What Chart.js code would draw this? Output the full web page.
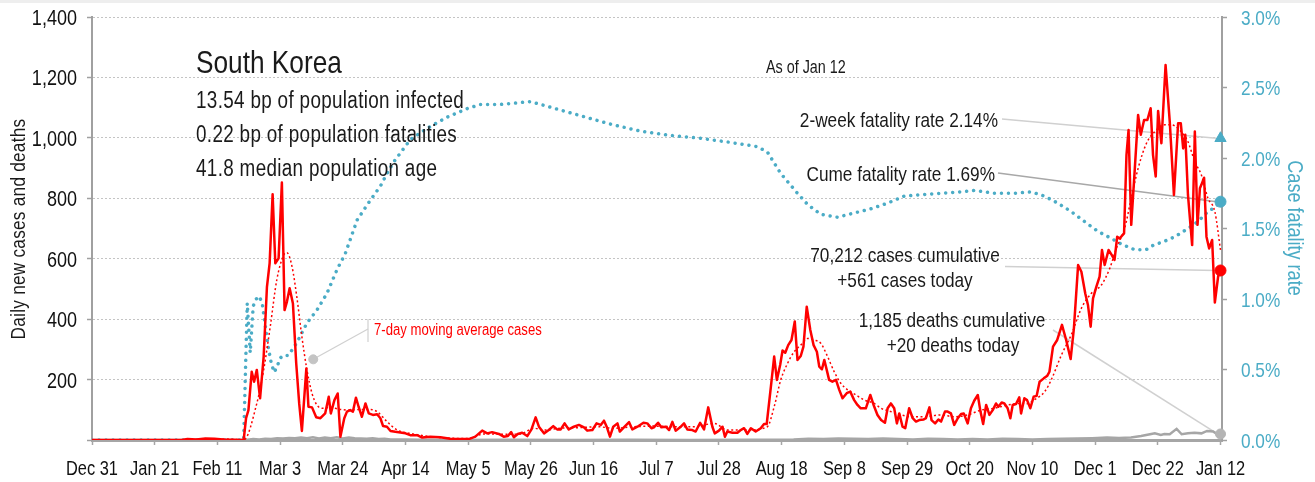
<!DOCTYPE html>
<html>
<head>
<meta charset="utf-8">
<title>South Korea - daily cases, deaths and fatality rate</title>
<script src="https://cdn.jsdelivr.net/npm/chart.js@4.4.1/dist/chart.umd.min.js"></script>
<style>
  html, body { margin: 0; padding: 0; background: #fff; }
  #wrap { width: 1315px; height: 482px; }
</style>
</head>
<body>
<div id="wrap"><canvas id="chart" width="1315" height="482"></canvas></div>
<script>
// x values are days since Dec 31, 2019
const tickLabels = ['Dec 31', 'Jan 21', 'Feb 11', 'Mar 3', 'Mar 24', 'Apr 14', 'May 5', 'May 26', 'Jun 16',
  'Jul 7', 'Jul 28', 'Aug 18', 'Sep 8', 'Sep 29', 'Oct 20', 'Nov 10', 'Dec 1', 'Dec 22', 'Jan 12'];

// daily new cases
const caseDays = [0, 30, 32, 35, 38, 41, 44, 47, 50.8,
  51.6, 52.4, 53.5, 54.3, 55.2, 56.3, 57.5, 58.6, 59.5, 60.5, 61.4, 62.5, 63.6, 64.5, 65.3, 66.2, 67.3, 68.4, 69.4, 70.3,
  71.8, 72.5, 73.7, 75.1, 76.5, 78.1, 79.3, 80.0, 81.2, 82.3, 83.2, 84.5, 85.4, 86.5, 87.4, 88.4, 89.3, 90.4, 91.6, 92.7,
  94.1, 95.5, 96.6, 97.5, 98.8, 100, 101.6, 103.3, 105, 106.6, 108.9, 110.6, 113.3, 116.7, 120, 123.4, 126.2, 128.4,
  130.7, 132.4, 134, 136.3, 137.9, 139.3, 140.4, 141.3, 142.6, 144.1, 145.8, 147.2, 148.6, 149.7, 151.4, 153, 154.5,
  155.8, 157, 158.3, 159.7, 161.4, 163.1, 164.8, 165.9, 167.6, 169, 170.4, 171.5, 172.4, 173.5, 174.6, 176, 176.8,
  178.4, 179.9, 181, 182.7, 184.7, 186, 187.4, 188.2, 189.6, 190.7, 192.2, 193.3, 194.4, 195.5, 197, 198.3, 199.4,
  201.1, 202.2, 203.7, 205, 206.4, 207.8, 208.6, 210, 211.2, 212, 212.8, 214.5, 216.2, 217.3, 218.4, 219.5, 220.7,
  222.3, 224, 225.1, 226, 227.4, 228.5, 229.4, 230.5, 231.3, 232.2, 233.2, 234.3, 235.4, 236.3, 237.4, 238.3, 239.4,
  240.6, 241.7, 242.8, 243.6, 244.5, 245.3, 246.1, 246.9, 248, 249.2, 250.3, 251.4, 252.8, 254, 255.3, 256.4, 257.5,
  259.2, 260.7, 261.8, 263.1, 264.3, 265.6, 266.5, 267.6, 268.7, 269.6, 270.4, 271.5, 272.4, 273.7, 274.9, 276, 277.1,
  278.6, 279.3, 280.5, 281.2, 282.4, 283.5, 284.4, 285.7, 286.6, 287.7, 288.8, 290, 291.1, 292, 293.3, 294.4, 295.5,
  296.7, 297.6, 298.5, 299.5, 300.6, 301.7, 302.8, 303.6, 304.7, 305.6, 306.7, 307.6, 308.4, 309.5, 310.6, 311.2,
  312.3, 313.2, 314.3, 315.4, 316.4, 317.4, 318.8, 320, 320.7, 321.9, 323.3, 324.9, 326.3, 327.8, 328.9, 330.3, 331.4,
  332.7, 333.6, 334.5, 335.3, 336.4, 337.5, 338.3, 339.2, 340.5, 341.6, 342.5, 343.4, 344.2, 345.7, 346.5, 347.2,
  348.1, 349.3, 350.4, 351.3, 352.4, 353.5, 354.6, 355.4, 356.3, 357.1, 358.2, 359.6, 361, 362.4, 363.8, 364.7, 365.5,
  366.2, 367.1, 368.5, 369.4, 370.3, 371.1, 371.8, 372.5, 373.3, 374.2, 375.2, 376.1, 377.2, 378];
const caseCounts = [0, 0, 3, 2, 5, 4, 2, 1, 0,
  72, 99, 226, 193, 232, 138, 276, 507, 585, 813, 585, 601, 852, 430, 458, 502, 452, 254, 121, 30,
  237, 110, 108, 75, 72, 88, 143, 88, 132, 154, 11, 72, 94, 99, 94, 140, 110, 77, 121, 88,
  83, 85, 72, 46, 44, 30, 27, 25, 22, 16, 16, 8, 11, 9, 4, 3, 3, 11,
  31, 22, 26, 20, 11, 13, 26, 9, 20, 24, 13, 35, 75, 44, 22, 33, 46,
  35, 35, 55, 35, 44, 50, 42, 31, 33, 55, 50, 64, 44, 11, 44, 55, 28,
  44, 59, 35, 44, 57, 55, 39, 42, 57, 42, 44, 33, 60, 31, 42, 55, 35,
  33, 28, 57, 35, 108, 44, 22, 31, 44, 11, 28, 24, 24, 33, 39, 20, 39,
  28, 39, 53, 53, 177, 276, 199, 248, 296, 289, 314, 331, 392, 265, 278, 309, 441,
  364, 314, 292, 243, 234, 265, 232, 199, 193, 199, 166, 138, 155, 160, 132, 116, 105,
  105, 149, 116, 83, 66, 57, 105, 121, 105, 55, 88, 44, 39, 105, 72, 61, 66,
  68, 72, 108, 66, 55, 68, 61, 94, 94, 88, 50, 72, 86, 88, 55, 105, 130,
  149, 94, 53, 116, 83, 99, 121, 110, 124, 121, 105, 72, 116, 119, 141, 88,
  138, 132, 105, 143, 146, 193, 204, 213, 226, 309, 331, 381, 331, 268, 370, 579, 557,
  485, 447, 375, 469, 507, 541, 629, 579, 629, 612, 596, 673, 667, 684, 943, 1026,
  712, 899, 1076, 1010, 1059, 1059, 1098, 943, 872, 1089, 982, 1241, 1054, 811, 1048, 1048, 965,
  1010, 811, 645, 1021, 712, 833, 850, 868, 673, 634, 662, 455, 541, 561];

// 7-day moving average of new cases
const avgDays = [0, 30, 35, 40, 45, 50.8, 55.2, 57.5, 59.7, 61.9, 64.2, 65.3, 67, 68.6, 70.3, 72, 73.7, 75.3, 77.6,
  79.8, 83.2, 86.5, 89.9, 93.2, 95.5, 98.8, 102.2, 106.6, 113.3, 120, 126, 131.2, 138, 143.5, 148, 151.4, 157,
  163.7, 169.2, 174.8, 181.5, 188.2, 195, 201.7, 208.4, 212.8, 219.5, 226.2, 228.5, 230.7, 233, 235.2, 237.4,
  239.7, 241.9, 244.1, 246.4, 248.6, 250.8, 253.1, 255.9, 258.7, 262, 264.3, 267.6, 271, 274.3, 278.8, 284.4,
  288.8, 293.3, 297.8, 302.3, 306.7, 311.2, 313, 316, 319.1, 321.3, 324.7, 328, 331.4, 334.7, 338.1, 340.9, 343.1,
  345.9, 348.1, 350.4, 353.2, 356, 359.3, 361.5, 364.3, 367.1, 369.4, 371.6, 373.8, 376.1, 378];
const avgCounts = [0, 0, 2, 3, 3, 0, 121, 232, 375, 530, 612, 620, 574, 474, 342, 232, 154, 116, 105,
  108, 101, 99, 101, 101, 94, 61, 33, 22, 11, 6, 5, 20, 19, 20, 39, 33, 39,
  41, 44, 39, 44, 46, 44, 44, 55, 33, 33, 44, 110, 199, 254, 292, 314,
  336, 331, 320, 276, 226, 188, 166, 149, 132, 121, 105, 94, 83, 77, 77, 83,
  77, 83, 99, 105, 116, 121, 120, 135, 160, 199, 281, 348, 436, 485, 513, 568, 634,
  701, 800, 899, 982, 1021, 1043, 1043, 1026, 987, 921, 877, 800, 756, 629];

// daily deaths
const deathDays = [0, 51, 52, 54, 56, 58, 60, 62, 64, 66, 68, 70, 72, 74, 76, 78, 80, 82, 84, 86, 88, 90, 92, 94,
  96, 98, 100, 105, 110, 115, 120, 140, 160, 180, 200, 220, 235, 240, 245, 250, 255, 260, 265, 270, 275, 280, 285,
  290, 295, 300, 305, 310, 315, 320, 325, 330, 335, 340, 344, 348, 351.4, 354.8, 356, 358, 359.2, 361, 363.3, 365,
  367.1, 369.3, 371.6, 373.5, 375.5, 377.2, 378];
const deathCounts = [0, 0, 1, 3, 2, 4, 3, 6, 5, 7, 6, 8, 6, 9, 5, 8, 6, 9, 5, 8, 6, 5, 4, 6,
  3, 4, 2, 2, 1, 1, 0, 1, 0, 1, 0, 1, 2, 4, 3, 5, 4, 3, 5, 3, 2, 4, 3,
  2, 3, 2, 4, 3, 2, 3, 4, 5, 6, 8, 7, 8, 13, 20, 22, 17, 20, 19, 37, 19,
  22, 24, 22, 30, 28, 17, 20];

// cumulative case fatality rate, %
const rateDays = [0, 50.8, 52, 53, 54, 55, 56, 57, 58, 59, 60, 61, 62, 63, 64, 65.8, 68.6, 72, 75.3, 78.7, 82.1,
  84.8, 88.8, 93.2, 96.6, 98.8, 101, 106.6, 112.2, 119, 125.7, 130.1, 136.8, 146.9, 153.6, 163.6, 173.7, 183.8,
  193.8, 203.9, 214, 223, 226.3, 230.7, 236.3, 239.7, 244.1, 249.7, 255.3, 260.9, 266.5, 272.1, 277.7, 284.4,
  291.1, 295.5, 302.2, 309, 314.6, 319, 323.5, 328, 332.4, 336.9, 341.4, 344.7, 349.2, 353.1, 355.4, 359.3, 362.6,
  367.1, 370.5, 373.8, 376.1, 378];
const rateValues = [0, 0, 0.97, 0.62, 0.95, 1.0, 1.02, 0.97, 0.82, 0.66, 0.55, 0.48, 0.52, 0.58, 0.6, 0.6, 0.69,
  0.83, 0.92, 1.04, 1.21, 1.32, 1.56, 1.7, 1.8, 1.89, 1.97, 2.13, 2.21, 2.29, 2.35, 2.38, 2.38, 2.4, 2.36, 2.3,
  2.24, 2.19, 2.16, 2.14, 2.11, 2.08, 2.04, 1.89, 1.75, 1.67, 1.6, 1.58, 1.61, 1.64, 1.68, 1.73, 1.74, 1.75, 1.76,
  1.77, 1.75, 1.75, 1.76, 1.73, 1.68, 1.62, 1.55, 1.48, 1.43, 1.39, 1.35, 1.35, 1.38, 1.41, 1.44, 1.5, 1.55,
  1.62, 1.65, 1.69];

const twoWeekRate = 2.14;
const totalCases = 70212;
const totalDeaths = 1185;
const avgLabelAnchor = [74.1, 267];

// no narrow face is installed, so text is squeezed horizontally instead
const FONT = '"Liberation Sans", Arial, sans-serif';
const SQUEEZE = 0.82;
const RED = '#ff0000';
const BLUE = '#4bacc6';
const GREY = '#a6a6a6';
const INK = '#1a1a1a';

const lastDay = caseDays[caseDays.length - 1];
const casesToday = caseCounts[caseCounts.length - 1];
const deathsToday = deathCounts[deathCounts.length - 1];
const cumeRate = rateValues[rateValues.length - 1];

function points(days, values) {
  return days.map((d, i) => ({ x: d, y: values[i] }));
}

function drawText(ctx, text, x, y, size, opts = {}) {
  ctx.save();
  ctx.font = size + 'px ' + FONT;
  ctx.fillStyle = opts.color || INK;
  ctx.textAlign = opts.align || 'left';
  ctx.textBaseline = opts.baseline || 'alphabetic';
  if (opts.spacing) ctx.letterSpacing = opts.spacing + 'px';
  ctx.translate(x, y);
  if (opts.rotate) ctx.rotate(opts.rotate);
  ctx.scale(SQUEEZE, 1);
  ctx.fillText(text, 0, 0);
  ctx.restore();
}

function line(ctx, x1, y1, x2, y2, color, width) {
  ctx.save();
  ctx.strokeStyle = color;
  ctx.lineWidth = width;
  ctx.beginPath();
  ctx.moveTo(x1, y1);
  ctx.lineTo(x2, y2);
  ctx.stroke();
  ctx.restore();
}

// tick labels, leader lines, text labels and axis titles
const annotations = {
  id: 'annotations',
  beforeDraw(chart) {
    const ctx = chart.ctx;
    ctx.save();
    ctx.fillStyle = '#ffffff';
    ctx.fillRect(0, 0, chart.width, chart.height);
    ctx.fillStyle = '#eeeeee';
    ctx.fillRect(0, 0, chart.width, 3);
    ctx.restore();
  },
  beforeDatasetsDraw(chart) {
    const ctx = chart.ctx;
    const { x, y, y1 } = chart.scales;
    const endX = x.getPixelForValue(lastDay);
    line(ctx, 1002, 119, endX - 4, y1.getPixelForValue(twoWeekRate), '#d0d0d0', 1.5);
    line(ctx, 998, 173, endX - 4, y1.getPixelForValue(cumeRate), '#a8a8a8', 1.5);
    line(ctx, 1005, 266.5, endX - 4, y.getPixelForValue(casesToday), '#d0d0d0', 1.5);
    line(ctx, 1053, 330, endX - 3, y.getPixelForValue(deathsToday), '#d0d0d0', 1.5);
    const ax = x.getPixelForValue(avgLabelAnchor[0]);
    const ay = y.getPixelForValue(avgLabelAnchor[1]);
    line(ctx, ax, ay, 368, 329, '#d0d0d0', 1.2);
    line(ctx, 368, 319, 368, 342, '#d0d0d0', 1.2);
  },
  afterDraw(chart) {
    const ctx = chart.ctx;
    const { x, y, y1 } = chart.scales;

    x.ticks.forEach(t => drawText(ctx, t.label, x.getPixelForValue(t.value), 475, 20, { align: 'center', color: '#111' }));
    y.ticks.forEach(t => {
      if (t.label) drawText(ctx, t.label, 77, y.getPixelForValue(t.value) + 8, 22, { align: 'right', color: '#111' });
    });
    y1.ticks.forEach(t => drawText(ctx, t.label, 1241, y1.getPixelForValue(t.value) + 7.5, 21, { color: BLUE }));

    drawText(ctx, 'South Korea', 196, 73, 32);
    drawText(ctx, '13.54 bp of population infected', 196, 108, 23, { spacing: 0.4 });
    drawText(ctx, '0.22 bp of population fatalities', 196, 142, 23, { spacing: 0.4 });
    drawText(ctx, '41.8 median population age', 196, 176, 23, { spacing: 0.4 });

    drawText(ctx, 'As of ' + tickLabels[tickLabels.length - 1], 766, 73, 17.5);
    drawText(ctx, '2-week fatality rate ' + twoWeekRate.toFixed(2) + '%', 998, 127, 21, { align: 'right' });
    drawText(ctx, 'Cume fatality rate ' + cumeRate.toFixed(2) + '%', 995, 181, 21, { align: 'right' });
    drawText(ctx, totalCases.toLocaleString('en-US') + ' cases cumulative', 905, 262, 21, { align: 'center' });
    drawText(ctx, '+' + casesToday + ' cases today', 905, 287, 21, { align: 'center' });
    drawText(ctx, totalDeaths.toLocaleString('en-US') + ' deaths cumulative', 952, 327, 21, { align: 'center' });
    drawText(ctx, '+' + deathsToday + ' deaths today', 953, 352, 21, { align: 'center' });
    drawText(ctx, '7-day moving average cases', 374, 335, 16, { color: RED });

    drawText(ctx, 'Daily new cases and deaths', 25, 229, 21, { align: 'center', spacing: 0.3, rotate: -Math.PI / 2 });
    drawText(ctx, 'Case fatality rate', 1288, 228, 22, { align: 'center', color: BLUE, rotate: Math.PI / 2 });
  }
};

// pin the plot area: 92px left axis, 93px right axis, 42px bottom axis
function pinWidth(w) {
  return scale => { scale.width = w; scale.paddingTop = 0; scale.paddingBottom = 0; };
}

new Chart(document.getElementById('chart'), {
  type: 'line',
  data: {
    datasets: [
      {
        label: 'Cases today', data: [{ x: lastDay, y: casesToday }], yAxisID: 'y', order: 0,
        showLine: false, pointRadius: 5.5, pointBackgroundColor: RED, pointBorderColor: RED, clip: false
      },
      {
        label: 'Deaths today', data: [{ x: lastDay, y: deathsToday }], yAxisID: 'y', order: 0,
        showLine: false, pointRadius: 5, pointBackgroundColor: '#b4b4b4', pointBorderColor: '#b4b4b4', clip: false
      },
      {
        label: 'Cume fatality rate', data: [{ x: lastDay, y: cumeRate }], yAxisID: 'y1', order: 0,
        showLine: false, pointRadius: 5.5, pointBackgroundColor: BLUE, pointBorderColor: BLUE, clip: false
      },
      {
        label: '2-week fatality rate', data: [{ x: lastDay, y: twoWeekRate }], yAxisID: 'y1', order: 0,
        showLine: false, pointStyle: 'triangle', pointRadius: 6.5, pointBackgroundColor: BLUE, pointBorderColor: BLUE, clip: false
      },
      {
        label: 'Average label anchor', data: [{ x: avgLabelAnchor[0], y: avgLabelAnchor[1] }], yAxisID: 'y', order: 0,
        showLine: false, pointRadius: 4.5, pointBackgroundColor: '#c4c4c4', pointBorderColor: '#c4c4c4'
      },
      {
        label: 'New cases', data: points(caseDays, caseCounts), yAxisID: 'y', order: 1,
        borderColor: RED, borderWidth: 2.5, pointRadius: 0, borderJoinStyle: 'round'
      },
      {
        label: '7-day moving average cases', data: points(avgDays, avgCounts), yAxisID: 'y', order: 2,
        borderColor: RED, borderWidth: 1.5, borderDash: [2, 2.5], pointRadius: 0, cubicInterpolationMode: 'monotone'
      },
      {
        label: 'Case fatality rate', data: points(rateDays, rateValues), yAxisID: 'y1', order: 3,
        borderColor: BLUE, borderWidth: 3.5, borderDash: [0.01, 7], borderCapStyle: 'round', pointRadius: 0
      },
      {
        label: 'Deaths', data: points(deathDays, deathCounts), yAxisID: 'y', order: 4,
        borderColor: GREY, borderWidth: 2.5, pointRadius: 0
      }
    ]
  },
  options: {
    responsive: false,
    animation: false,
    layout: { padding: { top: 17, left: 0, right: 0, bottom: 0 } },
    plugins: { legend: { display: false }, tooltip: { enabled: false } },
    scales: {
      x: {
        type: 'linear', min: 0, max: 378.5,
        afterFit(scale) { scale.height = 42; scale.paddingLeft = 0; scale.paddingRight = 0; },
        border: { color: GREY, width: 3 },
        grid: { drawOnChartArea: false, tickLength: 5, tickColor: GREY, tickWidth: 1.5 },
        ticks: {
          display: false, stepSize: 21, includeBounds: false, autoSkip: false,
          callback: v => tickLabels[Math.round(v / 21)]
        }
      },
      y: {
        position: 'left', min: 0, max: 1400,
        afterFit: pinWidth(92),
        border: { color: '#a0a0a0', width: 2, dash: [2, 2] },
        grid: { color: '#c4c4c4', lineWidth: 1, tickLength: 5, tickColor: '#a0a0a0', tickWidth: 1.5, tickBorderDash: [] },
        ticks: {
          display: false, stepSize: 200,
          callback: v => v === 0 ? '' : v.toLocaleString('en-US')
        }
      },
      y1: {
        position: 'right', min: 0, max: 3,
        afterFit: pinWidth(93),
        border: { color: '#a0a0a0', width: 2 },
        grid: { drawOnChartArea: false, tickLength: 5, tickColor: '#a0a0a0', tickWidth: 1.5 },
        ticks: {
          display: false, stepSize: 0.5,
          callback: v => v.toFixed(1) + '%'
        }
      }
    }
  },
  plugins: [annotations]
});
</script>
</body>
</html>
